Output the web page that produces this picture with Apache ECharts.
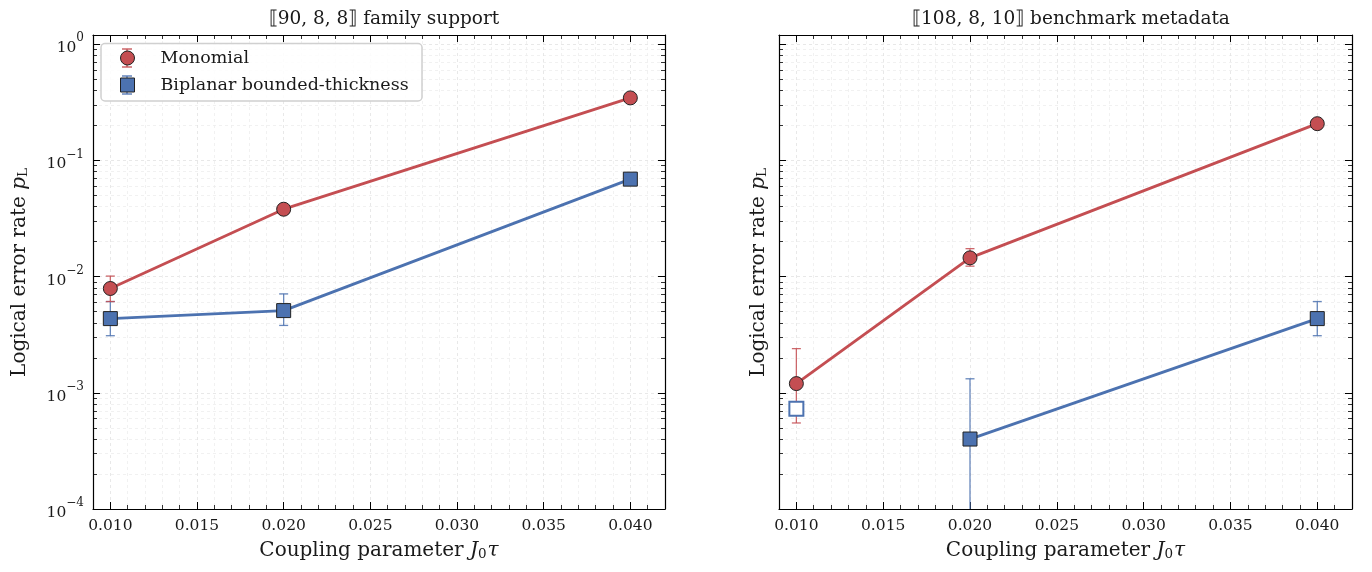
<!DOCTYPE html>
<html><head><meta charset="utf-8">
<script src="https://cdn.jsdelivr.net/npm/echarts@6/dist/echarts.min.js"></script>
<style>html,body{margin:0;padding:0;background:#fff}#c{width:1372px;height:572px}</style>
</head><body><div id="c"></div>
<script>
// ---------------- data ----------------
const couplings = [0.010, 0.020, 0.040];
const xTickValues = [0.010, 0.015, 0.020, 0.025, 0.030, 0.035, 0.040];
const yTickValues = [1e-4, 1e-3, 1e-2, 1e-1, 1e0];
const panelTitles = ['⟦90, 8, 8⟧ family support', '⟦108, 8, 10⟧ benchmark metadata'];
const seriesNames = ['Monomial', 'Biplanar bounded-thickness'];

// panel 1: [[90,8,8]]
const p1Monomial     = [0.0079, 0.038, 0.345];
const p1MonomialLow  = [0.0061, null, null];
const p1MonomialHigh = [0.0101, null, null];
const p1Biplanar     = [0.00435, 0.0051, 0.069];
const p1BiplanarLow  = [0.0031, 0.0038, null];
const p1BiplanarHigh = [0.0061, 0.0071, null];

// panel 2: [[108,8,10]]
const p2Monomial     = [0.0012, 0.0145, 0.207];
const p2MonomialLow  = [0.00055, 0.0123, null];
const p2MonomialHigh = [0.0024, 0.0174, null];
const p2Biplanar     = [null, 0.0004, 0.00435];
const p2BiplanarLow  = [null, 0.00005, 0.0031];
const p2BiplanarHigh = [null, 0.00132, 0.0061];
const p2BiplanarOpen = [0.00073, null, null];   // open (hollow) marker, not connected

// ---------------- style ----------------
const RED = '#c44e52', BLUE = '#4c72b0', INK = '#1a1a1a';
const FONT = 'DejaVu Serif';
const FS_TICK = 15.5, FS_SUP = 12, FS_LABEL = 20, FS_TITLE = 18.5, FS_LEG = 17.5;
const X_MIN = 0.009, X_MAX = 0.042, Y_MIN = 1e-4, Y_MAX = 1.2;

const xMinor = [];
for (let k = 9; k <= 42; k++) { if (k % 5 !== 0) xMinor.push(k / 1000); }
const yMinor = [];
for (let e = -4; e <= 0; e++) for (let m = 2; m <= 9; m++) { const v = m * Math.pow(10, e); if (v < Y_MAX) yMinor.push(v); }

const spine = { show: true, lineStyle: { color: '#000', width: 1.2 } };
const majorGrid = { show: true, lineStyle: { color: '#e2e2e2', width: 0.8, type: [3, 3] } };
const minorGrid = { show: true, lineStyle: { color: '#eeeeee', width: 0.8, type: [3, 3] } };
const tickMajor = vals => ({ show: true, inside: true, length: 7, customValues: vals, lineStyle: { color: '#000', width: 1 } });
const tickMinor = vals => ({ show: true, inside: true, length: 4, customValues: vals, lineStyle: { color: '#000', width: 0.8 } });

const nameStyle = {
  fontFamily: FONT, fontSize: FS_LABEL, color: INK,
  rich: { i: { fontFamily: FONT, fontSize: FS_LABEL, fontStyle: 'italic', color: INK },
          s: { fontFamily: FONT, fontSize: 13.5, color: INK, verticalAlign: 'bottom', padding: [0, 1, 0, 0] } }
};

function xAxes(g, name) {
  const base = { type: 'value', gridIndex: g, min: X_MIN, max: X_MAX };
  return [
    { ...base, position: 'bottom', axisLine: spine, axisTick: tickMajor(xTickValues),
      axisLabel: { show: true, customValues: xTickValues, margin: 9, formatter: v => v.toFixed(3),
                   fontFamily: FONT, fontSize: FS_TICK, color: INK },
      splitLine: majorGrid,
      name: name, nameLocation: 'middle', nameGap: 32, nameTextStyle: nameStyle },
    { ...base, position: 'bottom', axisLine: { show: false }, axisTick: tickMinor(xMinor), axisLabel: { show: false }, splitLine: minorGrid },
    { ...base, position: 'top', axisLine: spine, axisTick: tickMajor(xTickValues), axisLabel: { show: false }, splitLine: { show: false } },
    { ...base, position: 'top', axisLine: { show: false }, axisTick: tickMinor(xMinor), axisLabel: { show: false }, splitLine: { show: false } }
  ];
}
function supLabel(v) {
  const e = Math.round(Math.log10(v));
  return '{b|10}{s|' + (e < 0 ? '\u2212' + (-e) : e) + '}';
}
function yAxes(g, showLabels, nameGap) {
  const base = { type: 'log', logBase: 10, gridIndex: g, min: Y_MIN, max: Y_MAX };
  return [
    { ...base, position: 'left', axisLine: spine, axisTick: tickMajor(yTickValues),
      axisLabel: { show: showLabels, customValues: yTickValues, margin: 9, formatter: supLabel,
        rich: { b: { fontFamily: FONT, fontSize: FS_TICK, color: INK, verticalAlign: 'bottom', lineHeight: 24 },
                s: { fontFamily: FONT, fontSize: FS_SUP, color: INK, verticalAlign: 'top', lineHeight: 24 } } },
      splitLine: majorGrid,
      name: 'Logical error rate {i|p}{s|L}', nameLocation: 'middle', nameGap: nameGap, nameTextStyle: nameStyle },
    { ...base, position: 'left', axisLine: { show: false }, axisTick: tickMinor(yMinor), axisLabel: { show: false }, splitLine: minorGrid },
    { ...base, position: 'right', axisLine: spine, axisTick: tickMajor(yTickValues), axisLabel: { show: false }, splitLine: { show: false } },
    { ...base, position: 'right', axisLine: { show: false }, axisTick: tickMinor(yMinor), axisLabel: { show: false }, splitLine: { show: false } }
  ];
}

function pts(vals) { return couplings.map((c, i) => [c, vals[i]]).filter(d => d[1] != null); }
function errs(lo, hi) { return couplings.map((c, i) => [c, lo[i], hi[i]]).filter(d => d[1] != null); }

function errSeries(g, lo, hi, color) {
  return {
    type: 'custom', xAxisIndex: g * 4, yAxisIndex: g * 4, z: 2, silent: true,
    dimensions: ['x', 'lo', 'hi'], encode: { x: 0, y: [1, 2] },
    data: errs(lo, hi),
    renderItem: function (params, api) {
      const x = api.value(0), lo = api.value(1), hi = api.value(2);
      const pl = api.coord([x, lo]), ph = api.coord([x, hi]);
      const cs = params.coordSys;
      const top = cs.y, bot = cs.y + cs.height;
      const st = { stroke: color, lineWidth: 1.3, opacity: 0.85 };
      const ch = [{ type: 'line', shape: { x1: pl[0], y1: Math.max(ph[1], top), x2: pl[0], y2: Math.min(pl[1], bot) }, style: st }];
      if (pl[1] <= bot) ch.push({ type: 'line', shape: { x1: pl[0] - 4.5, y1: pl[1], x2: pl[0] + 4.5, y2: pl[1] }, style: st });
      if (ph[1] >= top) ch.push({ type: 'line', shape: { x1: ph[0] - 4.5, y1: ph[1], x2: ph[0] + 4.5, y2: ph[1] }, style: st });
      return { type: 'group', children: ch };
    }
  };
}
function lineSeries(g, name, vals, color, symbol) {
  return {
    type: 'line', name: name, xAxisIndex: g * 4, yAxisIndex: g * 4, z: 3,
    data: pts(vals), symbol: symbol, symbolSize: 14, showSymbol: true,
    lineStyle: { color: color, width: 2.9 },
    itemStyle: { color: color, borderColor: '#222', borderWidth: 1, opacity: 1 },
    emphasis: { disabled: true }, animation: false
  };
}

const xName = 'Coupling parameter {i|J}{s|0}{i|τ}';
const option = {
  animation: false,
  backgroundColor: '#fff',
  title: [
    { text: panelTitles[0], left: 379, top: 14, textAlign: 'center', textVerticalAlign: 'middle',
      textStyle: { fontFamily: FONT, fontSize: FS_TITLE, fontWeight: 'normal', color: INK } },
    { text: panelTitles[1], left: 1066, top: 14, textAlign: 'center', textVerticalAlign: 'middle',
      textStyle: { fontFamily: FONT, fontSize: FS_TITLE, fontWeight: 'normal', color: INK } }
  ],
  grid: [
    { left: 93, right: 707, top: 35, bottom: 63, containLabel: false },
    { left: 779, right: 20, top: 35, bottom: 63, containLabel: false }
  ],
  xAxis: [...xAxes(0, xName), ...xAxes(1, xName)],
  yAxis: [...yAxes(0, true, 63), ...yAxes(1, false, 10)],
  legend: {
    orient: 'vertical', left: 120, top: 49, padding: 0, itemGap: 9,
    itemWidth: 14, itemHeight: 14, selectedMode: false,
    data: [{ name: seriesNames[0], icon: 'circle' }, { name: seriesNames[1], icon: 'rect' }],
    itemStyle: { borderColor: '#222', borderWidth: 1 },
    textStyle: { fontFamily: FONT, fontSize: FS_LEG, color: INK, lineHeight: 18, padding: [0, 0, 0, 21] }
  },
  graphic: [
    { type: 'rect', z: 3, shape: { x: 101, y: 43.5, width: 321, height: 57.5, r: 4 },
      style: { fill: 'rgba(255,255,255,0.85)', stroke: '#d0d0d0', lineWidth: 1.5 } },
    { type: 'line', z: 3, shape: { x1: 127, y1: 49, x2: 127, y2: 67 }, style: { stroke: RED, lineWidth: 1.3 } },
    { type: 'line', z: 3, shape: { x1: 122, y1: 49, x2: 132, y2: 49 }, style: { stroke: RED, lineWidth: 1.3 } },
    { type: 'line', z: 3, shape: { x1: 122, y1: 67, x2: 132, y2: 67 }, style: { stroke: RED, lineWidth: 1.3 } },
    { type: 'line', z: 3, shape: { x1: 127, y1: 76, x2: 127, y2: 94 }, style: { stroke: BLUE, lineWidth: 1.3 } },
    { type: 'line', z: 3, shape: { x1: 122, y1: 76, x2: 132, y2: 76 }, style: { stroke: BLUE, lineWidth: 1.3 } },
    { type: 'line', z: 3, shape: { x1: 122, y1: 94, x2: 132, y2: 94 }, style: { stroke: BLUE, lineWidth: 1.3 } }
  ],
  series: [
    errSeries(0, p1BiplanarLow, p1BiplanarHigh, BLUE),
    errSeries(0, p1MonomialLow, p1MonomialHigh, RED),
    lineSeries(0, seriesNames[1], p1Biplanar, BLUE, 'rect'),
    lineSeries(0, seriesNames[0], p1Monomial, RED, 'circle'),
    errSeries(1, p2BiplanarLow, p2BiplanarHigh, BLUE),
    errSeries(1, p2MonomialLow, p2MonomialHigh, RED),
    lineSeries(1, seriesNames[1], p2Biplanar, BLUE, 'rect'),
    lineSeries(1, seriesNames[0], p2Monomial, RED, 'circle'),
    { type: 'scatter', name: seriesNames[1], xAxisIndex: 4, yAxisIndex: 4, z: 4,
      data: pts(p2BiplanarOpen), symbol: 'rect', symbolSize: 14,
      itemStyle: { color: '#ffffff', borderColor: BLUE, borderWidth: 2, opacity: 1 }, emphasis: { disabled: true } }
  ]
};
const chart = echarts.init(document.getElementById('c'), null, { renderer: 'canvas' });
chart.setOption(option);
</script></body></html>
